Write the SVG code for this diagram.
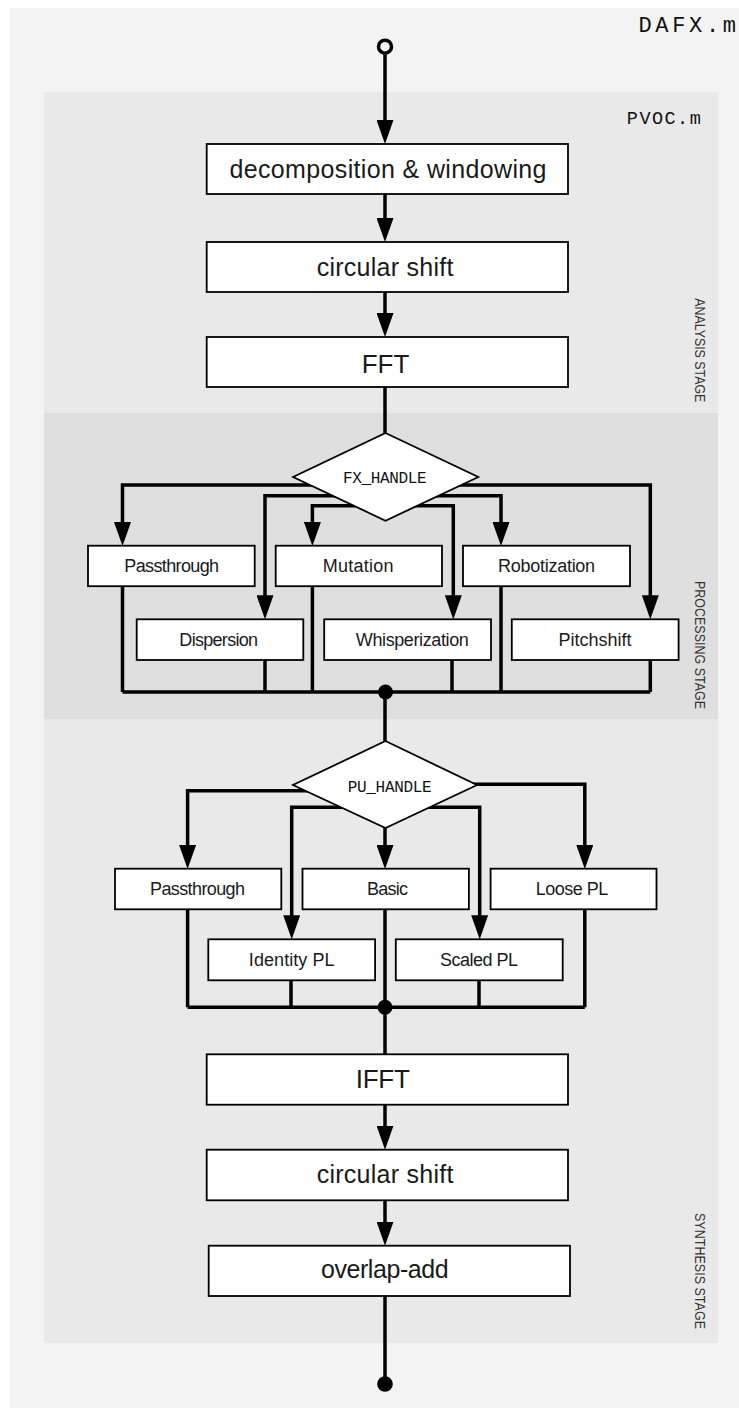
<svg xmlns="http://www.w3.org/2000/svg" width="739" height="1408" viewBox="0 0 739 1408">
<style>
.box{fill:#fff;stroke:#000;stroke-width:1.8}
.dia{fill:#fff;stroke:#000;stroke-width:1.8}
.ln{fill:none;stroke:#000;stroke-width:3.5;stroke-linejoin:miter}
.arr{marker-end:url(#ah)}
.big{font-family:"Liberation Sans",Arial,sans-serif;font-size:25px;fill:#1a1a1a;text-anchor:middle}
.cap{font-family:"Liberation Sans",Arial,sans-serif;font-size:26px;fill:#1a1a1a;text-anchor:middle}
.sm{font-family:"Liberation Sans",Arial,sans-serif;font-size:18px;fill:#1a1a1a;text-anchor:middle}
.mono{font-family:"Liberation Mono","DejaVu Sans Mono",monospace;fill:#111}
.stage{font-family:"Liberation Sans",Arial,sans-serif;font-size:14px;fill:#333}
</style>
<defs>
<marker id="ah" markerUnits="userSpaceOnUse" markerWidth="24" markerHeight="17" refX="12" refY="8.5" orient="auto">
<path d="M0,0 L24,8.5 L0,17 z" fill="#000"/>
</marker>
</defs>
<rect x="0" y="0" width="739" height="1408" fill="#fff"/>
<rect x="10" y="8" width="729" height="1400" fill="#f3f3f3"/>
<g id="panels">
<rect x="44" y="92" width="674" height="321" fill="#e9e9e9"/>
<rect x="44" y="413" width="674" height="306" fill="#dfdfdf"/>
<rect x="44" y="719" width="674" height="624" fill="#e9e9e9"/>
</g>
<g id="labels">
<text class="mono" x="638.5" y="31.7" font-size="22" textLength="97.5" lengthAdjust="spacing">DAFX.m</text>
<text class="mono" x="626.8" y="124" font-size="18.5" textLength="74" lengthAdjust="spacing">PVOC.m</text>
<text class="stage" transform="translate(694.5,298.3) rotate(90)" textLength="104" lengthAdjust="spacingAndGlyphs">ANALYSIS STAGE</text>
<text class="stage" transform="translate(694.5,581) rotate(90)" textLength="128" lengthAdjust="spacingAndGlyphs">PROCESSING STAGE</text>
<text class="stage" transform="translate(694.5,1213) rotate(90)" textLength="116" lengthAdjust="spacingAndGlyphs">SYNTHESIS STAGE</text>
</g>
<g id="connectors">
<circle cx="385" cy="46.7" r="6.5" fill="#f3f3f3" stroke="#000" stroke-width="3.5"/>
<path class="ln arr" d="M385,54.5 V132"/>
<path class="ln arr" d="M385,194 V230"/>
<path class="ln arr" d="M385,292 V325"/>
<path class="ln" d="M385,387 V433"/>
<path class="ln arr" d="M385,485 H122.5 V534"/>
<path class="ln arr" d="M385,485 H650.3 V607.3"/>
<path class="ln arr" d="M385,495.7 H265 V607.3"/>
<path class="ln arr" d="M385,495.7 H501 V534"/>
<path class="ln arr" d="M385,505.7 H312.4 V534"/>
<path class="ln arr" d="M385,505.7 H453.3 V607.3"/>
<path class="ln" d="M122.5,586 V692 M265,660 V692 M312.4,586 V692 M452,660 V692 M501,586 V692 M650.3,660 V692 M122.5,692 H650.3"/>
<circle cx="385.5" cy="692" r="7.5" fill="#000"/>
<path class="ln" d="M385,692 V741"/>
<path class="ln arr" d="M385,790.7 H187.6 V857"/>
<path class="ln arr" d="M385,784.3 H584.8 V857"/>
<path class="ln arr" d="M385,807.3 H291.7 V927.3"/>
<path class="ln arr" d="M385,807.3 H479.7 V927.3"/>
<path class="ln arr" d="M385,828 V857"/>
<path class="ln" d="M187.6,909 V1007.3 M291,980 V1007.3 M385,909 V1054.3 M479,980 V1007.3 M584.8,909 V1007.3 M187.6,1007.3 H584.8"/>
<circle cx="385" cy="1007.3" r="7.5" fill="#000"/>
<path class="ln arr" d="M385,1104.7 V1137.7"/>
<path class="ln arr" d="M385,1200.3 V1233.7"/>
<path class="ln" d="M385,1296 V1384"/>
<circle cx="385" cy="1384" r="7.8" fill="#000"/>
</g>
<g id="n-decomp"><rect class="box" x="206.7" y="144" width="361.3" height="50"/><text class="big" x="388" y="178" textLength="317" lengthAdjust="spacing">decomposition &amp; windowing</text></g>
<g id="n-circ1"><rect class="box" x="206.7" y="242" width="361.3" height="50"/><text class="big" x="385" y="276" textLength="136.7" lengthAdjust="spacing">circular shift</text></g>
<g id="n-fft"><rect class="box" x="206.7" y="337" width="361.3" height="50"/><text class="cap" x="385.5" y="372.7" textLength="47.6" lengthAdjust="spacing">FFT</text></g>
<g id="n-fx"><polygon class="dia" points="385.5,433 478.3,477 385.5,520.7 293.1,477"/><text class="mono" x="384.8" y="483.3" font-size="16" text-anchor="middle" textLength="83.4" lengthAdjust="spacing">FX_HANDLE</text></g>
<g id="n-fx-pass"><rect class="box" x="88" y="545.7" width="166.7" height="40.5"/><text class="sm" x="171.7" y="572.3" textLength="94.7" lengthAdjust="spacing">Passthrough</text></g>
<g id="n-fx-mut"><rect class="box" x="275.7" y="545.7" width="166.3" height="40.5"/><text class="sm" x="358.2" y="572.3" textLength="70.7" lengthAdjust="spacing">Mutation</text></g>
<g id="n-fx-rob"><rect class="box" x="463" y="545.7" width="167" height="40.5"/><text class="sm" x="546.6" y="572.3" textLength="97" lengthAdjust="spacing">Robotization</text></g>
<g id="n-fx-disp"><rect class="box" x="136.7" y="619.3" width="166.6" height="40.7"/><text class="sm" x="218.7" y="645.7" textLength="78.7" lengthAdjust="spacing">Dispersion</text></g>
<g id="n-fx-whis"><rect class="box" x="324.2" y="619.3" width="166.8" height="40.7"/><text class="sm" x="412.3" y="645.7" textLength="113" lengthAdjust="spacing">Whisperization</text></g>
<g id="n-fx-pitch"><rect class="box" x="511.8" y="619.3" width="166.8" height="40.7"/><text class="sm" x="595" y="645.7" textLength="73" lengthAdjust="spacing">Pitchshift</text></g>
<g id="n-pu"><polygon class="dia" points="385.5,741 477,785 385.5,828 293,785"/><text class="mono" x="389.7" y="792.3" font-size="16" text-anchor="middle" textLength="84" lengthAdjust="spacing">PU_HANDLE</text></g>
<g id="n-pu-pass"><rect class="box" x="115" y="868.7" width="166.3" height="40.6"/><text class="sm" x="197.5" y="895" textLength="95" lengthAdjust="spacing">Passthrough</text></g>
<g id="n-pu-basic"><rect class="box" x="302.5" y="868.7" width="166.4" height="40.6"/><text class="sm" x="387.6" y="895" textLength="41" lengthAdjust="spacing">Basic</text></g>
<g id="n-pu-loose"><rect class="box" x="490.6" y="868.7" width="165.9" height="40.6"/><text class="sm" x="572" y="895" textLength="72.6" lengthAdjust="spacing">Loose PL</text></g>
<g id="n-pu-ident"><rect class="box" x="208.3" y="939.3" width="166.8" height="41"/><text class="sm" x="291.7" y="965.7" textLength="85.8" lengthAdjust="spacing">Identity PL</text></g>
<g id="n-pu-scaled"><rect class="box" x="395.8" y="939.3" width="166.9" height="41"/><text class="sm" x="479" y="965.7" textLength="78" lengthAdjust="spacing">Scaled PL</text></g>
<g id="n-ifft"><rect class="box" x="206.7" y="1054.3" width="361.3" height="50.4"/><text class="cap" x="382.8" y="1087.7" textLength="54.3" lengthAdjust="spacing">IFFT</text></g>
<g id="n-circ2"><rect class="box" x="206.7" y="1149.7" width="361.3" height="50.6"/><text class="big" x="385" y="1183.3" textLength="136.7" lengthAdjust="spacing">circular shift</text></g>
<g id="n-ola"><rect class="box" x="208.7" y="1245.7" width="361.3" height="50.3"/><text class="big" x="384.8" y="1277.7" textLength="127.7" lengthAdjust="spacing">overlap-add</text></g>
</svg>
